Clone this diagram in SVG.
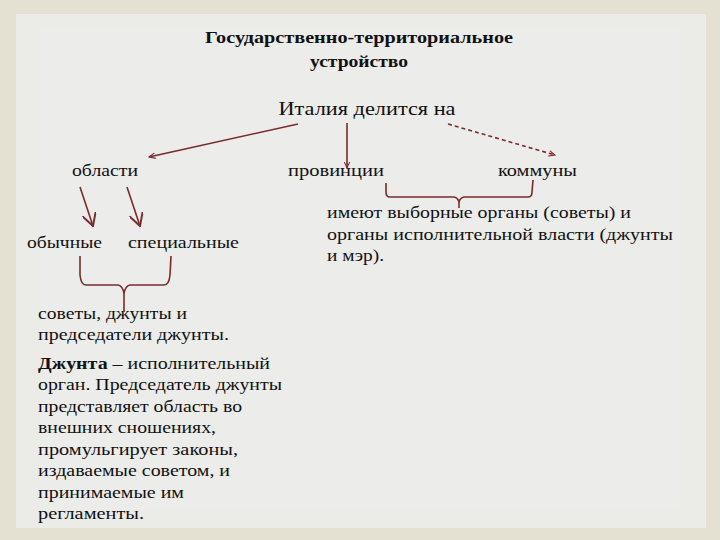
<svg xmlns="http://www.w3.org/2000/svg" width="720" height="540" viewBox="0 0 720 540">
<defs>
<marker id="ah" viewBox="0 0 10 10" refX="9" refY="5" markerWidth="7" markerHeight="7" orient="auto" markerUnits="userSpaceOnUse">
<path d="M0,1 L9,5 L0,9" fill="none" stroke="#7b2b2b" stroke-width="1.5"/>
</marker>
<marker id="ah2" viewBox="0 0 10 10" refX="9" refY="5" markerWidth="14" markerHeight="14" orient="auto" markerUnits="userSpaceOnUse">
<path d="M0,0 L9,5 L0,10" fill="none" stroke="#7b2b2b" stroke-width="1.4"/>
</marker>
<style>
.t{font-family:"Liberation Serif","DejaVu Serif",serif;fill:#111}
.h{font-family:"Liberation Serif",serif;font-weight:bold;font-size:17px;fill:#111}
.n{font-size:17px}
.b{font-size:16px}
.c{stroke:#7b2b2b;fill:none;stroke-width:1.6}
</style>
</defs>
<rect width="720" height="540" fill="#e4e1d3"/>
<rect x="16" y="14" width="690" height="514" fill="#ebebe8"/>
<rect x="40" y="30" width="640" height="480" fill="#ececea"/>

<g id="title">
<text class="h" x="359" y="43" text-anchor="middle" textLength="308" lengthAdjust="spacingAndGlyphs">Государственно-территориальное</text>
<text class="h" x="359" y="67" text-anchor="middle" textLength="98" lengthAdjust="spacingAndGlyphs">устройство</text>
</g>
<g id="italy"><text class="t" x="367" y="115" font-size="19" text-anchor="middle" textLength="177" lengthAdjust="spacingAndGlyphs">Италия делится на</text></g>
<g id="oblasti"><text class="t n" x="72" y="176" textLength="66" lengthAdjust="spacingAndGlyphs">области</text></g>
<g id="provincii"><text class="t n" x="288" y="176" textLength="96" lengthAdjust="spacingAndGlyphs">провинции</text></g>
<g id="kommuny"><text class="t n" x="498" y="176" textLength="79" lengthAdjust="spacingAndGlyphs">коммуны</text></g>
<g id="obychnye"><text class="t n" x="27" y="248" textLength="75" lengthAdjust="spacingAndGlyphs">обычные</text></g>
<g id="specialnye"><text class="t n" x="128" y="248" textLength="111" lengthAdjust="spacingAndGlyphs">специальные</text></g>
<g id="organy">
<text class="t b" x="327" y="218" textLength="304" lengthAdjust="spacingAndGlyphs">имеют выборные органы (советы) и</text>
<text class="t b" x="327" y="240" textLength="346" lengthAdjust="spacingAndGlyphs">органы исполнительной власти (джунты</text>
<text class="t b" x="327" y="261" textLength="57" lengthAdjust="spacingAndGlyphs">и мэр).</text>
</g>
<g id="sovety">
<text class="t b" x="38" y="319" textLength="149" lengthAdjust="spacingAndGlyphs">советы, джунты и</text>
<text class="t b" x="38" y="340" textLength="191" lengthAdjust="spacingAndGlyphs">председатели джунты.</text>
</g>
<g id="dzhunta">
<text class="t b" x="38" y="369" textLength="232" lengthAdjust="spacingAndGlyphs"><tspan font-weight="bold">Джунта</tspan> – исполнительный</text>
<text class="t b" x="38" y="390" textLength="244" lengthAdjust="spacingAndGlyphs">орган. Председатель джунты</text>
<text class="t b" x="38" y="412" textLength="204" lengthAdjust="spacingAndGlyphs">представляет область во</text>
<text class="t b" x="38" y="433" textLength="178" lengthAdjust="spacingAndGlyphs">внешних сношениях,</text>
<text class="t b" x="38" y="455" textLength="200" lengthAdjust="spacingAndGlyphs">промульгирует законы,</text>
<text class="t b" x="38" y="476" textLength="192" lengthAdjust="spacingAndGlyphs">издаваемые советом, и</text>
<text class="t b" x="38" y="498" textLength="146" lengthAdjust="spacingAndGlyphs">принимаемые им</text>
<text class="t b" x="38" y="519" textLength="106" lengthAdjust="spacingAndGlyphs">регламенты.</text>
</g>

<g id="connectors">
<line class="c" x1="298" y1="124" x2="149" y2="157" marker-end="url(#ah)" stroke-width="2"/>
<line class="c" x1="347" y1="123" x2="347" y2="168" marker-end="url(#ah)" stroke-width="1.2"/>
<line class="c" x1="448" y1="124" x2="555" y2="155" marker-end="url(#ah)" stroke-width="1" stroke-dasharray="4,3"/>
<line class="c" x1="80" y1="187" x2="93" y2="226" marker-end="url(#ah2)" stroke-width="2"/>
<line class="c" x1="127" y1="187" x2="140" y2="226" marker-end="url(#ah2)" stroke-width="2"/>
<path class="c" d="M80,256 L80,275 Q81,285 86,285 L118,285 Q123,286 124,294 L124,312 M124,294 Q125,286 130,285 L164,285 Q169,285 170,275 L171,256"/>
<path class="c" d="M386,183 L386,192 Q386,197 390,197 L454,197 Q458,198 459,202 L459,208 M459,202 Q460,198 464,197 L528,197 Q532,197 532,192 L533,180"/>
</g>
</svg>
